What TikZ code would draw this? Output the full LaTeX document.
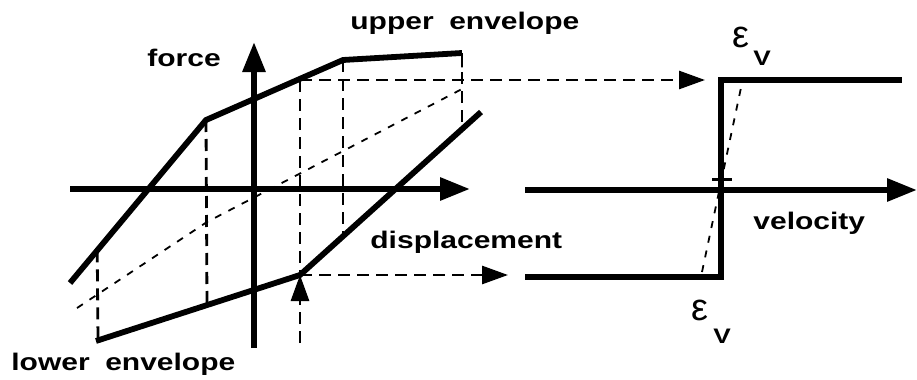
\documentclass[tikz,border=0pt]{standalone}
\usepackage{fontspec}
\newfontfamily\lblfont[FakeStretch=1.25]{Liberation Sans}
\newfontfamily\symfont{Liberation Sans}
\usetikzlibrary{positioning,arrows.meta,calc}

\begin{document}
\begin{tikzpicture}[
      x=0.5pt, y=-0.5pt,
      curve/.style={line width=2.9pt, line join=miter},
      axis/.style={line width=3pt, -{Triangle[length=15pt, width=11pt]}},
      guide/.style={line width=1.4pt, dash pattern=on 6pt off 3.5pt},
      guidearr/.style={guide, -{Triangle[length=13pt, width=9pt]}},
      elastic/.style={line width=0.9pt, dash pattern=on 3.5pt off 4pt},
      lbl/.style={inner sep=0pt, anchor=base west,
                  font=\lblfont\bfseries\fontsize{12}{14}\selectfont},
      eps/.style={inner sep=0pt, anchor=base west,
                  font=\symfont\fontsize{19}{21}\selectfont},
      sub/.style={inner sep=0pt, anchor=base west,
                  font=\lblfont\bfseries\fontsize{10.5}{12}\selectfont},
    ]
    \useasboundingbox (0,0) rectangle (917,380);

    % hysteresis loop points
    \coordinate (ue0) at (70,283);
    \coordinate (ue1) at (206,120);
    \coordinate (ue2) at (343,60);
    \coordinate (ue3) at (462,53);
    \coordinate (le0) at (96,341);
    \coordinate (le1) at (300,275);
    \coordinate (le2) at (481,112);

    % force-displacement axes
    \draw[axis] (70,189) -- (470,189);
    \draw[axis] (254,348) -- (254,42);

    % guide lines
    \draw[guide] ($(ue0)!0.2!(ue1)$) -- (98,339);
    \draw[guide] (ue1) -- (207,304);
    \draw[guide] (300,80) -- (le1);
    \draw[guidearr] (300,343) -- (le1);
    \draw[guide] (ue2) -- (343,236);
    \draw[guide] (ue3) -- (462,129);
    \draw[elastic] (77,308) -- (207,222) -- (462,89) -- (ue3);

    % envelopes
    \draw[curve] (ue0) -- (ue1) -- (ue2) -- (ue3);
    \draw[curve] (le0) -- (le1) -- (le2);

    % mapping arrows
    \draw[guidearr] (300,80) -- (705,80);
    \draw[guidearr] (le1) -- (508,275);

    % force-velocity step
    \coordinate (st0) at (525,277);
    \coordinate (st1) at (721,277);
    \coordinate (st2) at (721,80);
    \coordinate (st3) at (902,80);
    \draw[axis] (525,190) -- (917,190);
    \draw[curve] (st0) -- (st1) -- (st2) -- (st3);
    \draw[elastic] (702,272) -- (742,83);
    \draw[line width=1.5pt] (712,179) -- (732,179);

    % labels
    \node[lbl] (force) at (147,66) {force};
    \node[lbl] (upper) at (350,30) {upper\hspace{0.3em} envelope};
    \node[lbl] (lower) at (11,370) {lower\hspace{0.3em} envelope};
    \node[lbl] (disp) at (370,248) {displacement};
    \node[lbl] (vel) at (753,229) {velocity};
    \node[eps] (epsu) at (732,47) {ε};
    \node[sub] (subu) at (753,65) {V};
    \node[eps] (epsl) at (691,320) {ε};
    \node[sub] (subl) at (713,343) {V};
  \end{tikzpicture}
\end{document}
